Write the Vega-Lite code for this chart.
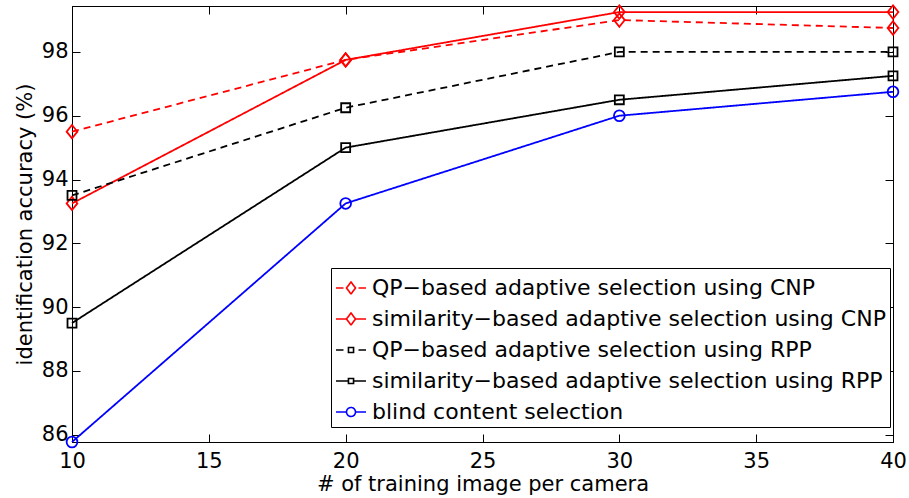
{
  "$schema": "https://vega.github.io/schema/vega-lite/v6.json",
  "width": 821,
  "height": 436,
  "autosize": "none",
  "padding": {"left": 72, "top": 6, "right": 16, "bottom": 56},
  "background": "white",
  "config": {
    "view": {"stroke": "#000", "strokeWidth": 1},
    "font": "DejaVu Sans",
    "axis": {
      "grid": false,
      "domainColor": "#000",
      "tickColor": "#000",
      "labelColor": "#000",
      "titleColor": "#000",
      "labelFont": "DejaVu Sans",
      "titleFont": "DejaVu Sans",
      "labelFontSize": 21,
      "titleFontSize": 21,
      "titleFontWeight": "normal",
      "tickSize": -8,
      "labelFlush": false,
      "labelOverlap": false
    }
  },
  "data": {
    "values": [
      {"series": "QP−based adaptive selection using CNP", "n": 10, "acc": 95.5},
      {"series": "QP−based adaptive selection using CNP", "n": 20, "acc": 97.75},
      {"series": "QP−based adaptive selection using CNP", "n": 30, "acc": 99.0},
      {"series": "QP−based adaptive selection using CNP", "n": 40, "acc": 98.75},
      {"series": "similarity−based adaptive selection using CNP", "n": 10, "acc": 93.25},
      {"series": "similarity−based adaptive selection using CNP", "n": 20, "acc": 97.75},
      {"series": "similarity−based adaptive selection using CNP", "n": 30, "acc": 99.25},
      {"series": "similarity−based adaptive selection using CNP", "n": 40, "acc": 99.25},
      {"series": "QP−based adaptive selection using RPP", "n": 10, "acc": 93.5},
      {"series": "QP−based adaptive selection using RPP", "n": 20, "acc": 96.25},
      {"series": "QP−based adaptive selection using RPP", "n": 30, "acc": 98.0},
      {"series": "QP−based adaptive selection using RPP", "n": 40, "acc": 98.0},
      {"series": "similarity−based adaptive selection using RPP", "n": 10, "acc": 89.5},
      {"series": "similarity−based adaptive selection using RPP", "n": 20, "acc": 95.0},
      {"series": "similarity−based adaptive selection using RPP", "n": 30, "acc": 96.5},
      {"series": "similarity−based adaptive selection using RPP", "n": 40, "acc": 97.25},
      {"series": "blind content selection", "n": 10, "acc": 85.77},
      {"series": "blind content selection", "n": 20, "acc": 93.25},
      {"series": "blind content selection", "n": 30, "acc": 96.0},
      {"series": "blind content selection", "n": 40, "acc": 96.75}
    ]
  },
  "encoding": {
    "x": {
      "field": "n",
      "type": "quantitative",
      "scale": {"domain": [10, 40], "nice": false, "zero": false}
    },
    "y": {
      "field": "acc",
      "type": "quantitative",
      "scale": {"domain": [85.77, 99.44], "nice": false, "zero": false}
    },
    "color": {
      "field": "series",
      "type": "nominal",
      "scale": {
        "domain": [
          "QP−based adaptive selection using CNP",
          "similarity−based adaptive selection using CNP",
          "QP−based adaptive selection using RPP",
          "similarity−based adaptive selection using RPP",
          "blind content selection"
        ],
        "range": ["#ff0000", "#ff0000", "#000000", "#000000", "#0000ff"]
      }
    }
  },
  "layer": [
    {
      "mark": {"type": "line", "strokeWidth": 1.8, "clip": false},
      "encoding": {
        "x": {
          "field": "n",
          "type": "quantitative",
          "axis": {
            "orient": "bottom",
            "values": [10, 15, 20, 25, 30, 35, 40],
            "title": "# of training image per camera",
            "labelPadding": 16,
            "titlePadding": 2
          }
        },
        "y": {
          "field": "acc",
          "type": "quantitative",
          "axis": {
            "orient": "left",
            "values": [86, 88, 90, 92, 94, 96, 98],
            "title": "identification accuracy (%)",
            "labelPadding": 12,
            "titlePadding": 6
          }
        },
        "strokeDash": {
          "field": "series",
          "type": "nominal",
          "legend": null,
          "scale": {
            "range": [[7, 5], [7, 5], [1, 0], [1, 0], [1, 0]]
          }
        },
        "color": {
          "field": "series",
          "type": "nominal",
          "legend": {
            "title": null,
            "orient": "none",
            "legendX": 259,
            "legendY": 262,
            "direction": "vertical",
            "padding": 4,
            "strokeColor": "#000",
            "fillColor": "#fff",
            "labelFont": "DejaVu Sans",
            "labelFontSize": 22,
            "labelColor": "#000",
            "labelLimit": 1000,
            "labelOffset": 5,
            "symbolSize": 900,
            "rowPadding": 4,
            "encode": {
              "symbols": {
                "update": {
                  "shape": {
                    "signal": "datum.value === 'QP−based adaptive selection using CNP' ? 'M-1,0H-0.5M0.5,0H1M0,-0.4L0.3,0L0,0.4L-0.3,0Z' : datum.value === 'similarity−based adaptive selection using CNP' ? 'M-1,0H-0.3M0.3,0H1M0,-0.4L0.3,0L0,0.4L-0.3,0Z' : datum.value === 'QP−based adaptive selection using RPP' ? 'M-1,0H-0.5M0.5,0H1M-0.17,-0.17H0.17V0.17H-0.17Z' : datum.value === 'similarity−based adaptive selection using RPP' ? 'M-1,0H-0.17M0.17,0H1M-0.17,-0.17H0.17V0.17H-0.17Z' : 'M-1,0H-0.3M0.3,0H1M-0.3,0A0.3,0.3 0 1,0 0.3,0A0.3,0.3 0 1,0 -0.3,0'"
                  },
                  "strokeDash": {"value": [1, 0]},
                  "strokeWidth": {"value": 1.6},
                  "fill": {"value": "transparent"}
                }
              }
            }
          }
        }
      }
    },
    {
      "mark": {"type": "point", "filled": false, "strokeWidth": 1.8, "opacity": 1, "clip": false},
      "encoding": {
        "x": {
          "field": "n",
          "type": "quantitative",
          "axis": {
            "orient": "top",
            "values": [10, 15, 20, 25, 30, 35, 40],
            "labels": false,
            "title": null
          }
        },
        "y": {
          "field": "acc",
          "type": "quantitative",
          "axis": {
            "orient": "right",
            "values": [86, 88, 90, 92, 94, 96, 98],
            "labels": false,
            "title": null
          }
        },
        "color": {"field": "series", "type": "nominal", "legend": null},
        "shape": {
          "field": "series",
          "type": "nominal",
          "legend": null,
          "scale": {
            "range": [
              "M0,-1L0.8,0L0,1L-0.8,0Z",
              "M-0.67,-0.67H0.67V0.67H-0.67Z",
              "M-0.8,0A0.8,0.8 0 1,0 0.8,0A0.8,0.8 0 1,0 -0.8,0",
              "M0,-1L0.8,0L0,1L-0.8,0Z",
              "M-0.67,-0.67H0.67V0.67H-0.67Z"
            ]
          }
        },
        "size": {"value": 180}
      }
    }
  ],
  "resolve": {"axis": {"x": "independent", "y": "independent"}}
}
